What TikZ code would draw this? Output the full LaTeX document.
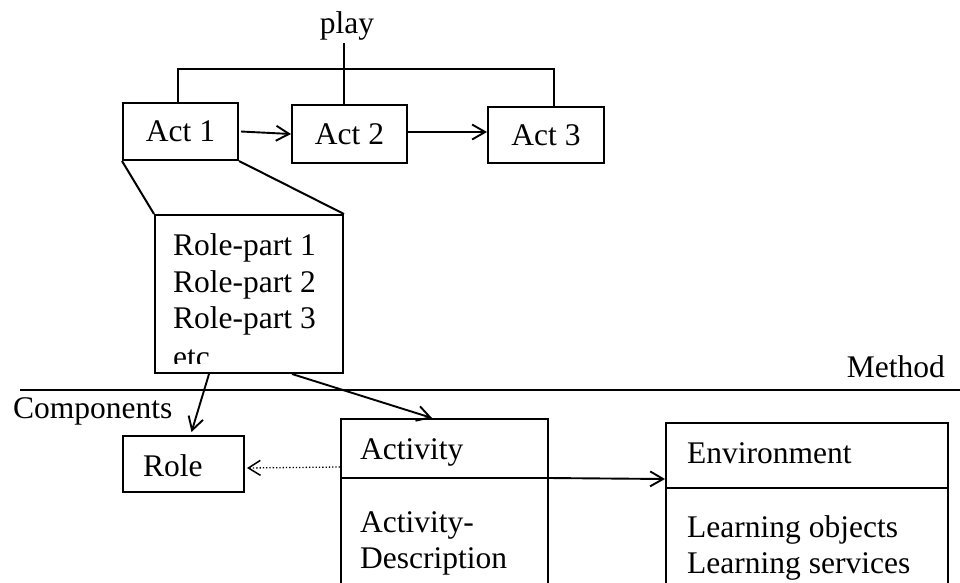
\documentclass[tikz,border=0pt]{standalone}
\usepackage{fontspec}
\setmainfont{Liberation Serif}
\usetikzlibrary{arrows.meta,calc}
\begin{document}
\begin{tikzpicture}[x=1pt,y=-1pt,
  box/.style={draw,line width=2pt,rectangle,inner sep=0pt,font=\fontsize{31.5}{36.5}\selectfont},
  txt/.style={anchor=base west,inner sep=0pt,font=\fontsize{31.5}{36.5}\selectfont},
  ln/.style={line width=2pt},
  arr/.style={line width=1.9pt,-{Straight Barb[length=13pt,width=15pt,line width=1.9pt]}},
  dotarr/.style={line width=1.3pt,dotted,-{Straight Barb[length=12pt,width=15pt,line width=1.5pt]}}
]
\clip (0,0) rectangle (960,582);
% top row
\node[txt,anchor=base] (play) at (347,33) {play};
\node[box,minimum width=115pt,minimum height=57pt] (act1) at (180.5,131.5) {Act 1};
\node[box,minimum width=115pt,minimum height=58pt] (act2) at (349.5,134) {Act 2};
\node[box,minimum width=116pt,minimum height=56pt] (act3) at (546,135) {Act 3};
\coordinate (playtop) at (344,43);
\coordinate (brk) at (344,69);
\draw[ln] (playtop) -- ($(act2.north)+(-5.5,0)$);
\draw[ln] ($(act1.north)+(-2.5,0)$) |- (brk) -| ($(act3.north)+(8,0)$);
\draw[arr] ($(act1.east)+(2,0)$) -- (act2.west);
\draw[arr] ($(act2.east)+(0,-2)$) -- ($(act3.west)+(0,-3)$);
% role-part box
\node[box,minimum width=188pt,minimum height=158pt] (rp) at (249,294) {};
\draw[ln] (act1.south west) -- (rp.north west);
\draw[ln] (act1.south east) -- (rp.north east);
\node[txt] (rp1) at (173,255) {Role-part 1};
\node[txt] (rp2) at (173,292) {Role-part 2};
\node[txt] (rp3) at (173,328) {Role-part 3};
\begin{scope}
\clip (156,216) rectangle (342,363);
\node[txt] (etc) at (173,367) {etc};
\end{scope}
% method / components divider
\coordinate (mlA) at (20,390);
\coordinate (mlB) at (960,390);
\draw[ln] (mlA) -- (mlB);
\node[txt,anchor=base east] (method) at (945,377) {Method};
\node[txt] (comp) at (13,418) {Components};
% components
\node[box,minimum width=121pt,minimum height=56pt] (role) at (183.5,464) {};
\node[txt] (roletxt) at (143,476) {Role};
\node[box,minimum width=207pt,minimum height=201pt] (act) at (444.5,519.5) {};
\draw[ln] ($(act.north west)+(0,60)$) -- ($(act.north east)+(0,60)$);
\node[txt] (acttxt) at (360,459) {Activity};
\node[txt] (actd1) at (360,532) {Activity-};
\node[txt] (actd2) at (360,568) {Description};
\node[box,minimum width=282pt,minimum height=197pt] (env) at (807,521.5) {};
\draw[ln] ($(env.north west)+(0,66)$) -- ($(env.north east)+(0,66)$);
\node[txt] (envtxt) at (687,463) {Environment};
\node[txt] (lo) at (687,537) {Learning objects};
\node[txt] (ls) at (687,573) {Learning services};
% connectors
\draw[arr] ($(rp.south west)+(55,0)$) -- ($(role.north)+(8,-3)$);
\draw[arr] ($(rp.south west)+(138,0)$) -- ($(act.north west)+(92,0)$);
\draw[dotarr] ($(act.north west)+(0,49)$) -- ($(role.east)+(2,4)$);
\draw[arr] ($(act.north east)+(0,60)$) -- ($(env.north west)+(0,57)$);
\end{tikzpicture}
\end{document}
